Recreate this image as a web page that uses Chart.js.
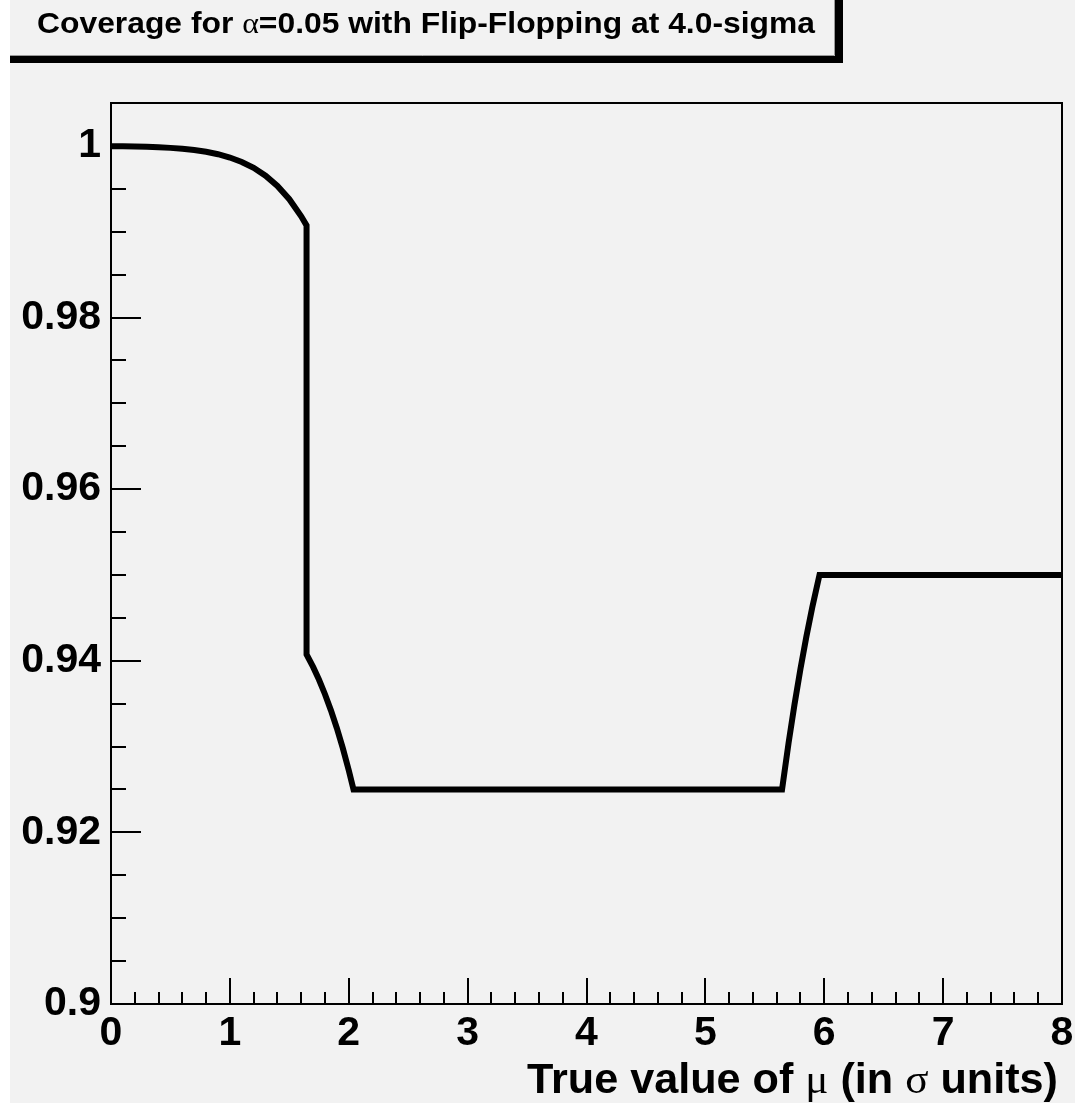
<!DOCTYPE html>
<html>
<head>
<meta charset="utf-8">
<script src="https://cdn.jsdelivr.net/npm/chart.js@4/dist/chart.umd.min.js"></script>
<style>
  html, body { margin: 0; padding: 0; background: #ffffff; }
  canvas { display: block; }
</style>
</head>
<body>
<canvas id="coverage" width="1075" height="1103"></canvas>
<script>
// True mean (in sigma units) and the coverage of the flip-flopping interval
const trueMu = [0, 0.1, 0.2, 0.3, 0.4, 0.5, 0.6, 0.7, 0.8, 0.9, 1.0, 1.1, 1.2, 1.3, 1.4, 1.5, 1.6, 1.645,
                1.645, 1.7, 1.75, 1.8, 1.85, 1.9, 1.95, 2.0, 2.04,
                5.645, 5.7, 5.75, 5.8, 5.85, 5.9, 5.96, 8.0];
const coverage = [0.99997, 0.99995, 0.99993, 0.99989, 0.99984, 0.99977, 0.99966, 0.99952, 0.99931, 0.99903,
                  0.99865, 0.99813, 0.99745, 0.99653, 0.99534, 0.99379, 0.99180, 0.99074,
                  0.94074, 0.93928, 0.93778, 0.93610, 0.93422, 0.93214, 0.92982, 0.92725, 0.92500,
                  0.92500, 0.93044, 0.93494, 0.93907, 0.94284, 0.94628, 0.95000, 0.95000];

const xTickValues = [0, 1, 2, 3, 4, 5, 6, 7, 8];
const xTickLabels = ['0', '1', '2', '3', '4', '5', '6', '7', '8'];
const yTickValues = [0.9, 0.92, 0.94, 0.96, 0.98, 1.0];
const yTickLabels = ['0.9', '0.92', '0.94', '0.96', '0.98', '1'];

const titleParts = [
  { text: 'Coverage for ', greek: false },
  { text: 'α', greek: true },
  { text: '=0.05 with Flip-Flopping at 4.0-sigma', greek: false }
];
const xTitleParts = [
  { text: 'True value of ', greek: false },
  { text: 'μ', greek: true },
  { text: ' (in ', greek: false },
  { text: 'σ', greek: true },
  { text: ' units)', greek: false }
];

const BG = '#f2f2f2';
const SANS = '"Liberation Sans", Arial, Helvetica, sans-serif';
const SERIF = '"Liberation Serif", "DejaVu Serif", serif';

// Draws a run of mixed bold-sans / serif-greek text, squeezed to a given width
function drawRichText(ctx, parts, size, x, baseline, width, align) {
  const fontFor = p => p.greek ? `normal ${size}px ${SERIF}` : `bold ${size}px ${SANS}`;
  let total = 0;
  const widths = parts.map(p => { ctx.font = fontFor(p); const w = ctx.measureText(p.text).width; total += w; return w; });
  const sx = width / total;
  ctx.save();
  ctx.translate(align === 'right' ? x - width : x, baseline);
  ctx.scale(sx, 1);
  ctx.fillStyle = '#000';
  ctx.textBaseline = 'alphabetic';
  ctx.textAlign = 'left';
  let cx = 0;
  parts.forEach((p, i) => { ctx.font = fontFor(p); ctx.fillText(p.text, cx, 0); cx += widths[i]; });
  ctx.restore();
}

const framePlugin = {
  id: 'framePlugin',
  beforeDraw(chart) {
    const ctx = chart.ctx;
    ctx.save();
    ctx.fillStyle = '#ffffff';
    ctx.fillRect(0, 0, chart.width, chart.height);
    ctx.fillStyle = BG;
    ctx.fillRect(10, 0, chart.width - 10, chart.height);
    ctx.restore();
  },
  beforeDatasetsDraw(chart) {
    const ctx = chart.ctx;
    const a = chart.chartArea;
    const xs = chart.scales.x, ys = chart.scales.y;
    ctx.save();
    ctx.strokeStyle = '#000';
    ctx.lineWidth = 2;
    ctx.lineCap = 'butt';
    ctx.beginPath();
    // y ticks, pointing into the frame
    const yStep = (yTickValues[1] - yTickValues[0]) / 4;
    for (let v = ys.min, k = 0; v <= ys.max + 1e-9; k++, v = ys.min + k * yStep) {
      const py = Math.round(ys.getPixelForValue(v));
      if (py <= a.top + 1) continue;
      const major = k % 4 === 0;
      ctx.moveTo(a.left, py);
      ctx.lineTo(a.left + (major ? 30 : 15), py);
    }
    // x ticks
    const xStep = (xTickValues[1] - xTickValues[0]) / 5;
    for (let k = 0, v = xs.min; v <= xs.max + 1e-9; k++, v = xs.min + k * xStep) {
      const px = Math.round(xs.getPixelForValue(v));
      if (px <= a.left + 1 || px >= a.right - 1) continue;
      const major = k % 5 === 0;
      ctx.moveTo(px, a.bottom);
      ctx.lineTo(px, a.bottom - (major ? 26 : 12));
    }
    ctx.stroke();
    ctx.strokeRect(a.left, a.top, a.right - a.left, a.bottom - a.top);
    ctx.restore();
  },
  afterDraw(chart) {
    const ctx = chart.ctx;
    ctx.save();
    // title pave with its shadow
    ctx.fillStyle = '#000';
    ctx.fillRect(835, 0, 8, 63);
    ctx.fillRect(10, 56, 833, 7);
    ctx.fillStyle = BG;
    ctx.fillRect(10, 0, 825, 56);
    ctx.strokeStyle = '#9a9a9a';
    ctx.lineWidth = 1;
    ctx.beginPath();
    ctx.moveTo(834.5, 0);
    ctx.lineTo(834.5, 55.5);
    ctx.lineTo(10, 55.5);
    ctx.stroke();
    ctx.restore();
    drawRichText(ctx, titleParts, 30, 37, 33, 778, 'left');
    drawRichText(ctx, xTitleParts, 42, 1058, 1093, 531, 'right');
  }
};

new Chart(document.getElementById('coverage'), {
  type: 'line',
  data: {
    datasets: [{
      data: trueMu.map((m, i) => ({ x: m, y: coverage[i] })),
      borderColor: '#000',
      borderWidth: 6,
      borderJoinStyle: 'miter',
      borderCapStyle: 'butt',
      pointRadius: 0,
      tension: 0,
      fill: false
    }]
  },
  options: {
    responsive: false,
    animation: false,
    devicePixelRatio: 1,
    layout: { padding: { left: 0, right: 13, top: 103, bottom: 0 } },
    plugins: { legend: { display: false }, tooltip: { enabled: false }, title: { display: false } },
    scales: {
      x: {
        type: 'linear',
        min: 0,
        max: 8,
        grid: { display: false, drawTicks: false },
        border: { display: false },
        afterBuildTicks: s => { s.ticks = xTickValues.map(v => ({ value: v })); },
        afterFit: s => { s.height = 99; s.paddingLeft = 0; s.paddingRight = 0; },
        ticks: {
          autoSkip: false,
          maxRotation: 0,
          padding: 5,
          color: '#000',
          font: { family: SANS, size: 41, weight: 'bold' },
          callback: (v, i) => xTickLabels[i]
        }
      },
      y: {
        type: 'linear',
        min: 0.9,
        max: 1.005,
        grid: { display: false, drawTicks: false },
        border: { display: false },
        afterBuildTicks: s => { s.ticks = yTickValues.map(v => ({ value: v })); },
        afterFit: s => { s.width = 111; s.paddingTop = 0; s.paddingBottom = 0; },
        ticks: {
          autoSkip: false,
          padding: 10,
          color: '#000',
          font: { family: SANS, size: 41, weight: 'bold' },
          callback: (v, i) => yTickLabels[i]
        }
      }
    }
  },
  plugins: [framePlugin]
});
</script>
</body>
</html>
